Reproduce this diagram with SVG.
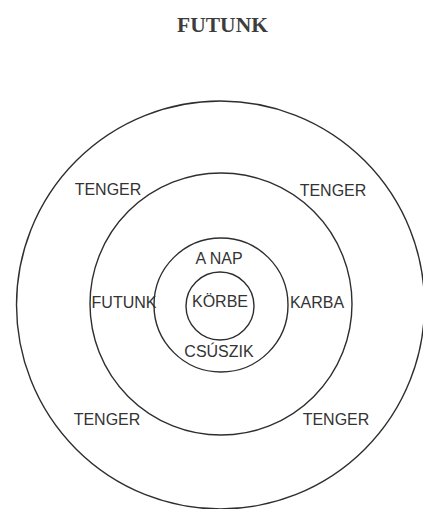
<svg xmlns="http://www.w3.org/2000/svg" width="423" height="509" viewBox="0 0 423 509">
<style>
.ring{fill:none;stroke:#2e2e2e;stroke-width:1.4}
.lbl{font-family:"Liberation Sans",Arial,sans-serif;font-size:16px;fill:#333333;text-anchor:middle}
.title{font-family:"Liberation Serif","Times New Roman",serif;font-size:21.5px;font-weight:bold;fill:#3d3d3d;text-anchor:middle}
</style>
<rect width="423" height="509" fill="#ffffff"/>
<text class="title" x="222.5" y="32">FUTUNK</text>
<g id="outer-ring">
<circle class="ring" cx="220.5" cy="305" r="204"/>
<text class="lbl" x="108" y="195">TENGER</text>
<text class="lbl" x="333" y="196">TENGER</text>
<text class="lbl" x="107" y="425">TENGER</text>
<text class="lbl" x="336" y="425">TENGER</text>
</g>
<g id="middle-ring">
<circle class="ring" cx="221" cy="304" r="131"/>
<text class="lbl" x="124" y="308">FUTUNK</text>
<text class="lbl" x="317" y="308">KARBA</text>
</g>
<g id="sun-ring">
<circle class="ring" cx="221" cy="305" r="67"/>
<text class="lbl" x="219" y="264">A NAP</text>
<text class="lbl" x="219" y="357">CSÚSZIK</text>
</g>
<g id="inner-ring">
<circle class="ring" cx="220" cy="306" r="34"/>
<text class="lbl" x="220" y="307">KÖRBE</text>
</g>
</svg>
